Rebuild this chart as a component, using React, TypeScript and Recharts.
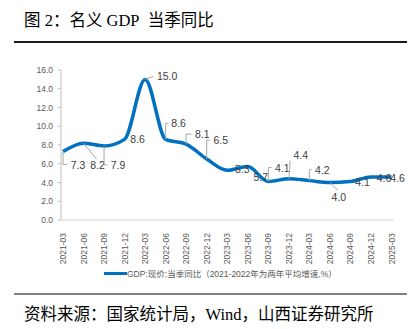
import React from 'react';
import { LineChart, Line, XAxis, YAxis } from 'recharts';

const quarters = [
  '2021-03', '2021-06', '2021-09', '2021-12',
  '2022-03', '2022-06', '2022-09', '2022-12',
  '2023-03', '2023-06', '2023-09', '2023-12',
  '2024-03', '2024-06', '2024-09', '2024-12',
  '2025-03',
];
const gdpYoY = [7.3, 8.2, 7.9, 8.6, 15.0, 8.6, 8.1, 6.5, 5.3, 5.7, 4.1, 4.4, 4.2, 4.0, 4.1, 4.6, 4.6];
const yTicks = [0, 2, 4, 6, 8, 10, 12, 14, 16];

const seriesName = 'GDP:现价:当季同比（2021-2022年为两年平均增速,%）';
const titleText = '图 2：名义 GDP\u00a0\u00a0当季同比';
const sourceText = '资料来源：国家统计局，Wind，山西证券研究所';

// label placement (text centre offset from point) and leader style
const labelPlacement: [number, number, string][] = [
  [15, 13, 'b'], [14, 22, 'd'], [14, 19, 'b'], [13, 0, 'n'],
  [22, -3, 'd'], [13, -16, 'b'], [16, -10, 'b'], [14, -19, 'b'],
  [15, -1, 'n'], [13, 10, 'n'], [14, -14, 'b'], [12, -24, 'd'],
  [13, -11, 'b'], [9, 14, 'd'], [12, 0, 'n'], [13, 1, 'n'], [6, 1, 'n'],
];

const data = quarters.map((q, i) => ({ q, v: gdpYoY[i] }));

const BLUE = '#0070C0';
const LABEL_FONT = '"Liberation Sans", Arial, sans-serif';

const DataLabel = (props: any) => {
  const { x, y, value, index } = props;
  if (x == null || y == null) return null;
  const [dx, dy, kind] = labelPlacement[index] || [12, 0, 'n'];
  const txt = Number(value).toFixed(1);
  const hw = txt.length * 2.9;
  const tx = x + dx;
  const ty = y + dy;
  let leader: React.ReactNode = null;
  if (kind === 'b') {
    leader = (
      <polyline
        points={`${x},${y} ${x},${ty} ${tx - hw - 2},${ty}`}
        fill="none"
        stroke="#a6a6a6"
        strokeWidth={1}
      />
    );
  } else if (kind === 'd') {
    const ex = dy > 12 ? tx - 1 : tx - hw - 2;
    const ey = dy > 12 ? ty - 6 : dy < -12 ? ty + 6 : ty;
    leader = <line x1={x} y1={y} x2={ex} y2={ey} stroke="#a6a6a6" strokeWidth={1} />;
  }
  return (
    <g>
      {leader}
      <text
        x={tx}
        y={ty}
        textAnchor="middle"
        dominantBaseline="central"
        fontSize={10.5}
        fontFamily={LABEL_FONT}
        fill="#404040"
      >
        {txt}
      </text>
    </g>
  );
};

const XTick = (props: any) => {
  const { x, y, payload } = props;
  return (
    <text
      transform={`translate(${x},${y + 5}) rotate(-90)`}
      textAnchor="end"
      dominantBaseline="central"
      fontSize={8.5}
      fontFamily={LABEL_FONT}
      fill="#595959"
    >
      {payload.value}
    </text>
  );
};

export default function App() {
  return (
    <div
      style={{
        position: 'absolute',
        left: 0,
        top: 0,
        width: 419,
        height: 329,
        background: '#fff',
        overflow: 'hidden',
        fontFamily: '"Liberation Serif", "Noto Sans CJK SC", serif',
      }}
    >
      <div style={{ position: 'absolute', left: 24, top: 11, fontSize: 16.5, lineHeight: '20px', color: '#000', whiteSpace: 'nowrap' }}>
        {titleText}
      </div>
      <div style={{ position: 'absolute', left: 14, top: 41, width: 393, height: 1.5, background: '#1a1a1a' }} />
      <div style={{ position: 'absolute', left: 0, top: 50 }}>
        <LineChart width={419} height={215} data={data} margin={{ top: 20, right: 25.5, left: 0, bottom: 0 }}>
          <XAxis
            dataKey="q"
            interval={0}
            padding={{ left: 2, right: 2 }}
            tick={<XTick />}
            tickLine={false}
            axisLine={{ stroke: '#d0d0d0', strokeWidth: 1 }}
            height={45}
          />
          <YAxis
            domain={[0, 16]}
            ticks={yTicks}
            interval={0}
            width={61}
            tickSize={3}
            tickMargin={5}
            tickFormatter={(v: number) => v.toFixed(1)}
            tick={{ fontSize: 8.5, fill: '#595959', fontFamily: LABEL_FONT }}
            tickLine={{ stroke: '#bfbfbf' }}
            axisLine={{ stroke: '#bfbfbf', strokeWidth: 1 }}
          />
          <Line
            type="monotone"
            dataKey="v"
            stroke={BLUE}
            strokeWidth={3.5}
            dot={false}
            isAnimationActive={false}
            label={(p: any) => <DataLabel {...p} />}
          />
        </LineChart>
      </div>
      <div style={{ position: 'absolute', left: 104, top: 266, height: 14, display: 'flex', alignItems: 'center', whiteSpace: 'nowrap' }}>
        <div style={{ width: 23, height: 3, background: BLUE }} />
        <span style={{ fontSize: 8.5, color: '#595959', fontFamily: '"Liberation Sans", "Noto Sans CJK SC", sans-serif' }}>{seriesName}</span>
      </div>
      <div style={{ position: 'absolute', left: 14, top: 293, width: 393, height: 2, background: '#808080' }} />
      <div style={{ position: 'absolute', left: 24, top: 305, fontSize: 16.5, lineHeight: '20px', color: '#000', whiteSpace: 'nowrap' }}>
        {sourceText}
      </div>
    </div>
  );
}
